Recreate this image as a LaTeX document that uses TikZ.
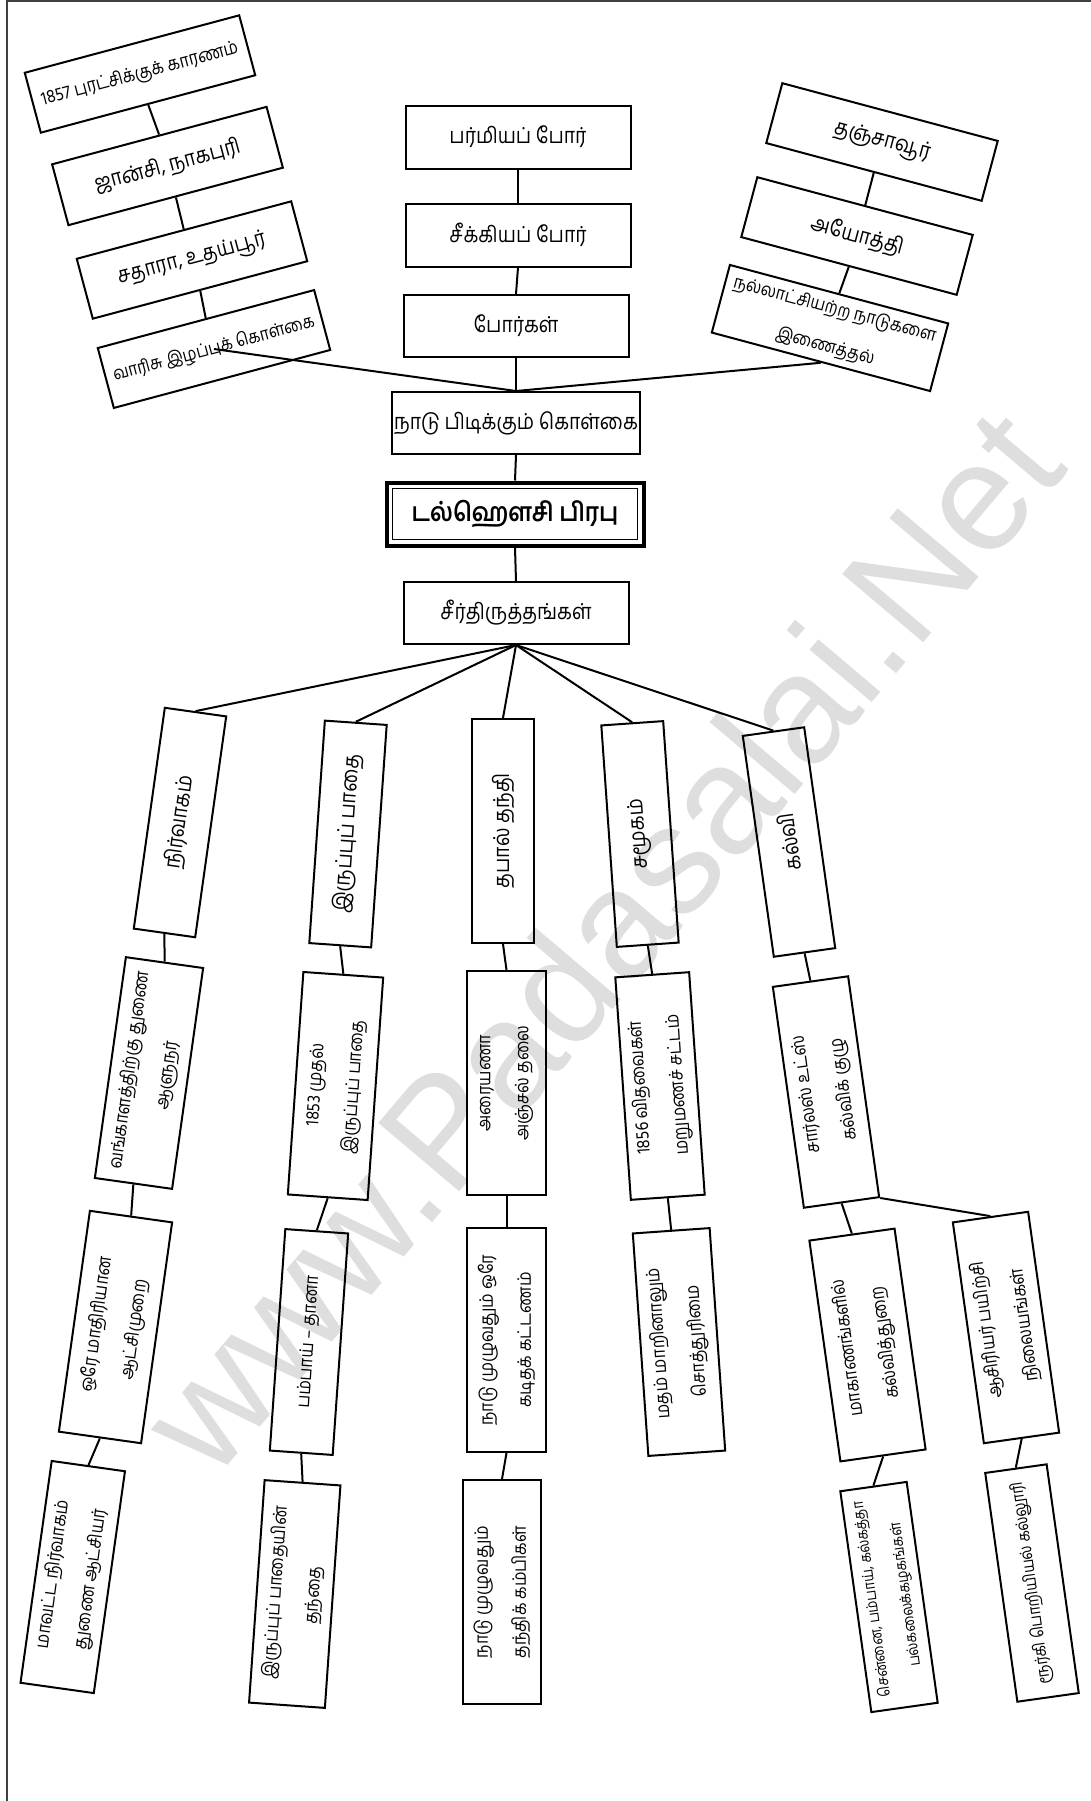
\documentclass[tikz,border=0pt]{standalone}
\usepackage{fontspec}
\newfontfamily\ta[Script=Tamil,FakeStretch=0.88]{Hind Madurai}
\newfontfamily\wmfont{Liberation Sans}
\newcommand\fsa{\fontsize{11}{19}\selectfont}
\newcommand\fsb{\fontsize{9.3}{19}\selectfont}
\newcommand\fsc{\fontsize{7.7}{17}\selectfont}
\newcommand\fse{\fontsize{9}{19}\selectfont}
\newcommand\fsd{\fontsize{13}{15}\selectfont}
\begin{document}
\begin{tikzpicture}[x=0.5pt,y=-0.5pt,
  bx/.style 2 args={draw, line width=1pt, inner sep=1pt, align=center,
     minimum width=#1*0.5pt, minimum height=#2*0.5pt, font=\ta\fsa},
  sm/.style={font=\ta\fsb},
  xs/.style={font=\ta\fsc},
  ms/.style={font=\ta\fse},
  ln/.style={line width=1pt},
  wmark/.style={font=\wmfont\fontsize{77}{77}\selectfont, text=black!13, inner sep=0pt}]
\useasboundingbox (0,0) rectangle (1091,1801);
% watermark
\node[wmark, rotate=49.8] (wm) at (600,940) {www.Padasalai.Net};
% frame
\draw[black!75, line width=1pt] (7,1801) -- (7,1) -- (1091,1);

% top-left chain
\node[bx={222}{62}, rotate=15, sm] (tl1) at (140,74) {1857 புரட்சிக்குக் காரணம்};
\node[bx={222}{63}, rotate=15] (tl2) at (167.5,166) {ஜான்சி, நாகபுரி};
\node[bx={222}{62}, rotate=15] (tl3) at (192,260) {சதாரா, உதய்பூர்};
\node[bx={224}{62}, rotate=15, ms] (tl4) at (214,349) {வாரிசு இழப்புக் கொள்கை};

% middle
\node[bx={225}{63}] (m1) at (518,137) {பர்மியப் போர்};
\node[bx={225}{63}] (m2) at (518,235) {சீக்கியப் போர்};
\node[bx={225}{62}] (m3) at (516,326) {போர்கள்};
\node[bx={225}{62}] (m4) at (516,423) {நாடு பிடிக்கும் கொள்கை};
\node[bx={257}{63}, line width=2pt, font=\ta\fsd\bfseries] (dal) at (515,514) {டல்ஹௌசி பிரபு};
\draw[line width=0.5pt] ([shift={(4pt,-4pt)}]dal.north west) rectangle ([shift={(-4pt,4pt)}]dal.south east);
\node[bx={225}{62}] (seer) at (516,613) {சீர்திருத்தங்கள்};

% right chain
\node[bx={223}{62}, rotate=-15] (r1) at (882,142) {தஞ்சாவூர்};
\node[bx={223}{62}, rotate=-15] (r2) at (857,236) {அயோத்தி};
\node[bx={226}{70}, rotate=-15, ms] (r3) at (830,328) {நல்லாட்சியற்ற நாடுகளை\\இணைத்தல்};

% column 1
\node[bx={223}{62}, rotate=82] (c1a) at (180,822.5) {நிர்வாகம்};
\node[bx={223}{78}, rotate=82, sm] (c1b) at (149,1073) {வங்காளத்திற்கு துணை\\ஆளுநர்};
\node[bx={223}{83}, rotate=82, sm] (c1c) at (115.5,1327) {ஒரே மாதிரியான\\ஆட்சிமுறை};
\node[bx={224}{74}, rotate=82, sm] (c1d) at (72.75,1577) {மாவட்ட நிர்வாகம்\\துணை ஆட்சியர்};
% column 2
\node[bx={223}{62}, rotate=86] (c2a) at (348,834) {இருப்புப் பாதை};
\node[bx={223}{80}, rotate=86, sm] (c2b) at (335.5,1086) {1853 முதல்\\இருப்புப் பாதை};
\node[bx={222}{63}, rotate=86, sm] (c2c) at (309,1342) {பம்பாய் – தானா};
\node[bx={223}{76}, rotate=86, sm] (c2d) at (294.75,1594) {இருப்புப் பாதையின்\\தந்தை};
% column 3
\node[bx={224}{62}, rotate=90] (c3a) at (503,831) {தபால் தந்தி};
\node[bx={224}{79}, rotate=90, sm] (c3b) at (506.5,1083) {அரையணா\\அஞ்சல் தலை};
\node[bx={224}{79}, rotate=90, sm] (c3c) at (506.5,1340) {நாடு முழுவதும் ஒரே\\கடிதக் கட்டணம்};
\node[bx={224}{78}, rotate=90, sm] (c3d) at (502,1592) {நாடு முழுவதும்\\தந்திக் கம்பிகள்};
% column 4
\node[bx={222}{62}, rotate=94] (c4a) at (640,834) {சமூகம்};
\node[bx={223}{74}, rotate=94, sm] (c4b) at (660,1086) {1856 விதவைகள்\\மறுமணச் சட்டம்};
\node[bx={223}{77}, rotate=94, sm] (c4c) at (679,1342) {மதம் மாறினாலும்\\சொத்துரிமை};
% column 5
\node[bx={223}{62}, rotate=98] (c5a) at (789,842) {கல்வி};
\node[bx={223}{76}, rotate=98, sm] (c5b) at (826,1092) {சார்லஸ் உட்ஸ்\\கல்விக் குழு};
\node[bx={223}{86}, rotate=98, sm] (c5c) at (867.5,1345) {மாகாணங்களில்\\கல்வித்துறை};
\node[bx={223}{76}, rotate=98, sm] (c5d) at (1006,1327.5) {ஆசிரியர் பயிற்சி\\நிலையங்கள்};
\node[bx={223}{67}, rotate=98, xs] (c5e) at (889,1597) {சென்னை, பம்பாய், கல்கத்தா\\பல்கலைக்கழகங்கள்};
\node[bx={231}{62}, rotate=98, font=\ta\fontsize{8.4}{12}\selectfont] (c5f) at (1032,1583) {ரூர்கி பொறியியல் கல்லூரி};

% connectors
\draw[ln] (tl1.south) -- (tl2.north);
\draw[ln] (tl2.south) -- (tl3.north);
\draw[ln] (tl3.south) -- (tl4.north);
\draw[ln] (tl4.center) -- (m4.north);
\draw[ln] (r1.south) -- (r2.north);
\draw[ln] (r2.south) -- (r3.north);
\draw[ln] (r3.south) -- (m4.north);
\draw[ln] (m1.south) -- (m2.north);
\draw[ln] (m2.south) -- (m3.north);
\draw[ln] (m3.south) -- (m4.north);
\draw[ln] (m4.south) -- (dal.north);
\draw[ln] (dal.south) -- (seer.north);
\foreach \n in {c1a,c2a,c3a,c4a,c5a} \draw[ln] (seer.south) -- (\n.east);
\draw[ln] (c1a.west) -- (c1b.east);
\draw[ln] (c1b.west) -- (c1c.east);
\draw[ln] (c1c.west) -- (c1d.east);
\draw[ln] (c2a.west) -- (c2b.east);
\draw[ln] (c2b.west) -- (c2c.east);
\draw[ln] (c2c.west) -- (c2d.east);
\draw[ln] (c3a.west) -- (c3b.east);
\draw[ln] (c3b.west) -- (c3c.east);
\draw[ln] (c3c.west) -- (c3d.east);
\draw[ln] (c4a.west) -- (c4b.east);
\draw[ln] (c4b.west) -- (c4c.east);
\draw[ln] (c5a.west) -- (c5b.east);
\draw[ln] (c5b.west) -- (c5c.east);
\draw[ln] (c5b.south west) -- (c5d.east);
\draw[ln] (c5c.west) -- (c5e.east);
\draw[ln] (c5d.west) -- (c5f.east);
\end{tikzpicture}
\end{document}
